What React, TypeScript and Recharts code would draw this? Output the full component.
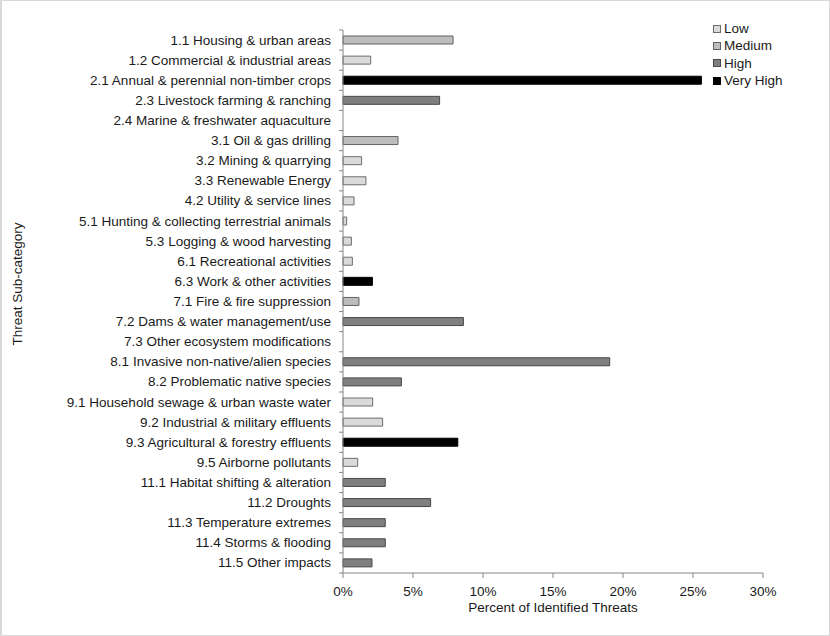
import React from 'react';
import { BarChart, Bar, XAxis, YAxis, Legend } from 'recharts';

const categories = [
  '1.1 Housing & urban areas',
  '1.2 Commercial & industrial areas',
  '2.1 Annual & perennial non-timber crops',
  '2.3 Livestock farming & ranching',
  '2.4 Marine & freshwater aquaculture',
  '3.1 Oil & gas drilling',
  '3.2 Mining & quarrying',
  '3.3 Renewable Energy',
  '4.2 Utility & service lines',
  '5.1 Hunting & collecting terrestrial animals',
  '5.3 Logging & wood harvesting',
  '6.1 Recreational activities',
  '6.3 Work & other activities',
  '7.1 Fire & fire suppression',
  '7.2 Dams & water management/use',
  '7.3 Other ecosystem modifications',
  '8.1 Invasive non-native/alien species',
  '8.2 Problematic native species',
  '9.1 Household sewage & urban waste water',
  '9.2 Industrial & military effluents',
  '9.3 Agricultural & forestry effluents',
  '9.5 Airborne pollutants',
  '11.1 Habitat shifting & alteration',
  '11.2 Droughts',
  '11.3 Temperature extremes',
  '11.4 Storms & flooding',
  '11.5 Other impacts',
];

const values = [
  7.86, 1.98, 25.6, 6.9, 0, 3.93, 1.33, 1.64, 0.79, 0.26, 0.6, 0.67, 2.1, 1.14,
  8.6, 0, 19.05, 4.17, 2.12, 2.83, 8.2, 1.05, 3.02, 6.26, 3.02, 3.02, 2.07,
];

const levels = [
  'Medium', 'Low', 'Very High', 'High', '', 'Medium', 'Low', 'Low', 'Low', 'Low',
  'Low', 'Low', 'Very High', 'Medium', 'High', '', 'High', 'High', 'Low', 'Low',
  'Very High', 'Low', 'High', 'High', 'High', 'High', 'High',
];

const levelNames = ['Low', 'Medium', 'High', 'Very High'];
const xTicks = [0, 5, 10, 15, 20, 25, 30];

const levelColors: Record<string, { fill: string; stroke: string }> = {
  Low: { fill: '#dadada', stroke: '#6e6e6e' },
  Medium: { fill: '#bdbdbd', stroke: '#626262' },
  High: { fill: '#7f7f7f', stroke: '#484848' },
  'Very High': { fill: '#000000', stroke: '#000000' },
};

const data = categories.map((name, i) => {
  const row: Record<string, any> = { name };
  levelNames.forEach((l) => {
    row[l] = levels[i] === l ? values[i] : null;
  });
  return row;
});

const FONT = '"Liberation Sans", Arial, sans-serif';
const FS = 13.5;
const TEXT = '#1a1a1a';
const AXIS = '#868686';
const W = 830;
const H = 636;
const MARGIN = { top: 30, right: 67, bottom: 13, left: 0 };
const X_AXIS_H = 50;
const Y_AXIS_W = 343;
const PLOT_H = H - MARGIN.top - MARGIN.bottom - X_AXIS_H;
const BAND = PLOT_H / categories.length;

const CategoryTick = (props: any) => {
  const { x, y, payload, index } = props;
  const isLast = index === categories.length - 1;
  return (
    <g>
      <line x1={x - 4} x2={x} y1={y - BAND / 2} y2={y - BAND / 2} stroke={AXIS} />
      {isLast && <line x1={x - 4} x2={x} y1={y + BAND / 2} y2={y + BAND / 2} stroke={AXIS} />}
      <text
        x={x - 12}
        y={y}
        textAnchor="end"
        dominantBaseline="central"
        fontFamily={FONT}
        fontSize={FS}
        fill={TEXT}
      >
        {payload.value}
      </text>
    </g>
  );
};

const renderLegend = () => (
  <div style={{ fontFamily: FONT, fontSize: FS, color: TEXT }}>
    {levelNames.map((l) => (
      <div key={l} style={{ display: 'flex', alignItems: 'center', height: 17.3, whiteSpace: 'nowrap' }}>
        <span
          style={{
            display: 'inline-block',
            width: 6,
            height: 6,
            background: levelColors[l].fill,
            border: `1px solid ${levelColors[l].stroke}`,
            marginRight: 3,
          }}
        />
        <span>{l}</span>
      </div>
    ))}
  </div>
);

export default function App() {
  return (
    <div
      style={{
        position: 'absolute',
        left: 0,
        top: 0,
        width: W,
        height: H,
        background: '#ffffff',
      }}
    >
      <BarChart
        width={W}
        height={H}
        data={data}
        layout="vertical"
        margin={MARGIN}
        barSize={8}
      >
        <XAxis
          type="number"
          domain={[0, 30]}
          ticks={xTicks}
          tickFormatter={(v: number) => `${v}%`}
          axisLine={{ stroke: AXIS }}
          tickLine={{ stroke: AXIS }}
          tickSize={5}
          tickMargin={8}
          height={X_AXIS_H}
          tick={{ fontFamily: FONT, fontSize: FS, fill: TEXT }}
          interval={0}
          label={{
            content: ({ viewBox }: any) => (
              <text
                x={viewBox.x + viewBox.width / 2}
                y={viewBox.y + 39}
                textAnchor="middle"
                fontFamily={FONT}
                fontSize={FS}
                fill={TEXT}
              >
                Percent of Identified Threats
              </text>
            ),
          }}
        />
        <YAxis
          type="category"
          dataKey="name"
          width={Y_AXIS_W}
          axisLine={{ stroke: AXIS }}
          tickLine={false}
          tickSize={0}
          tickMargin={0}
          interval={0}
          tick={<CategoryTick />}
          label={{
            content: () => (
              <text
                x={17}
                y={284}
                transform="rotate(-90 17 284)"
                textAnchor="middle"
                dominantBaseline="central"
                fontFamily={FONT}
                fontSize={FS}
                fill={TEXT}
              >
                Threat Sub-category
              </text>
            ),
          }}
        />
        <Legend
          layout="vertical"
          verticalAlign="middle"
          align="center"
          wrapperStyle={{ top: 20, left: 713, width: 110 }}
          content={renderLegend}
        />
        {levelNames.map((l) => (
          <Bar
            key={l}
            dataKey={l}
            stackId="s"
            fill={levelColors[l].fill}
            stroke={levelColors[l].stroke}
            strokeWidth={1}
            isAnimationActive={false}
          />
        ))}
      </BarChart>
      <div
        style={{
          position: 'absolute',
          left: 0,
          top: 0,
          width: W,
          height: H,
          boxSizing: 'border-box',
          border: '1px solid #d9d9d9',
          borderLeftWidth: 2,
          pointerEvents: 'none',
        }}
      />
    </div>
  );
}
